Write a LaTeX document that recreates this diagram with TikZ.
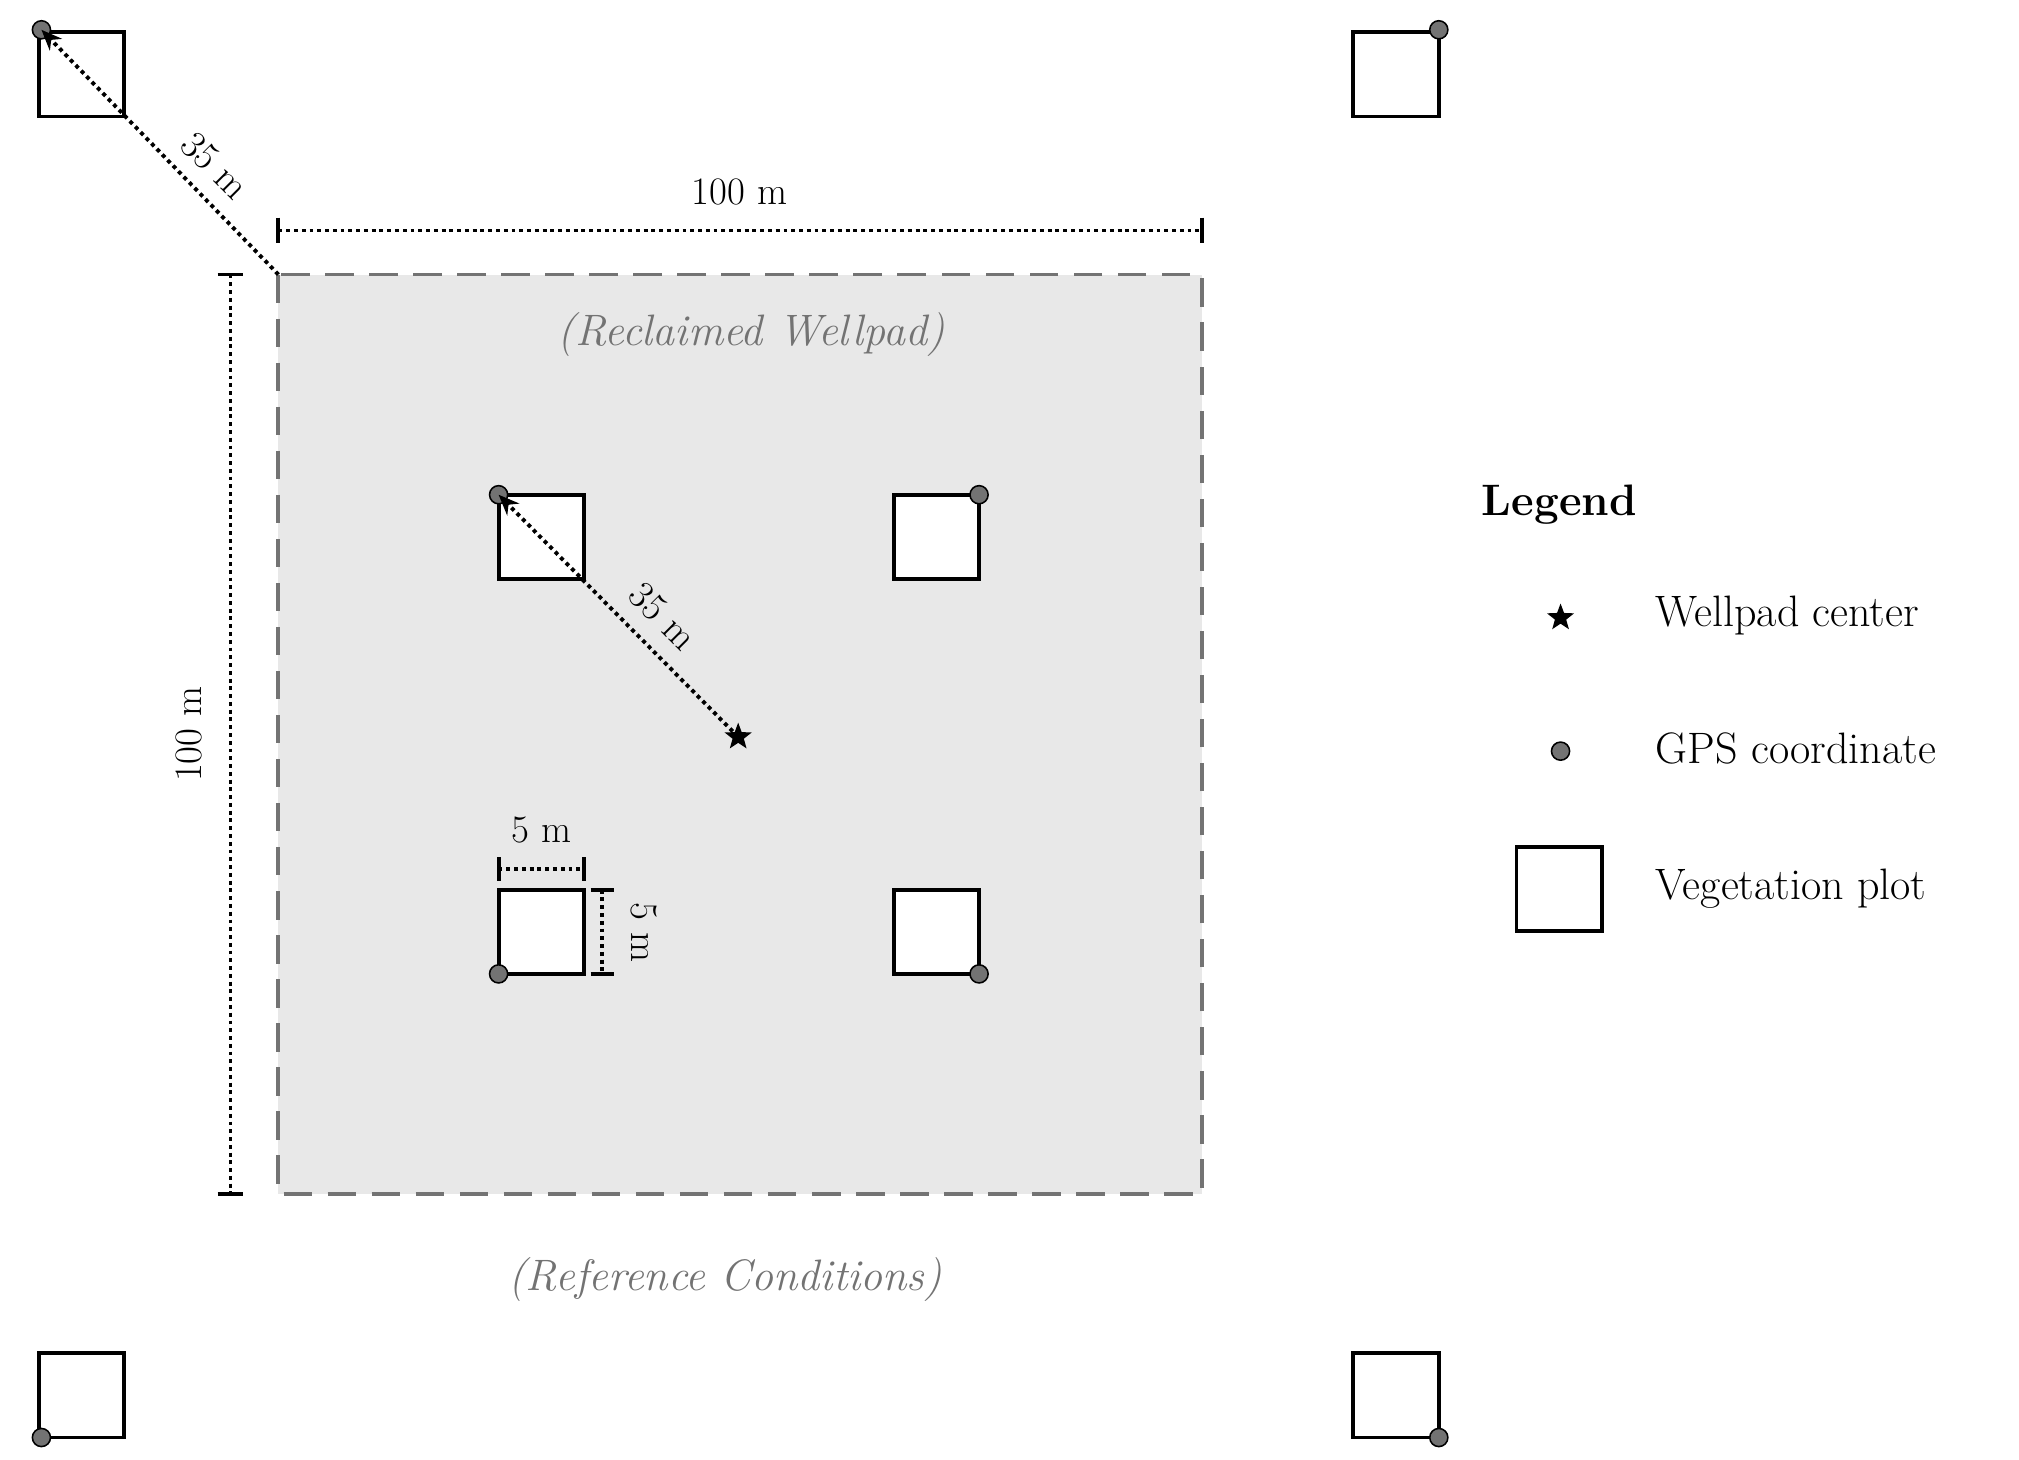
\documentclass[tikz,border=0pt]{standalone}
\usetikzlibrary{arrows.meta,shapes.geometric}
\begin{document}
\begin{tikzpicture}[x=1pt,y=-1pt,
  plot/.style={draw=black,line width=3pt,fill=white},
  gps/.style={circle,draw=black,line width=1.2pt,fill=black!55,minimum size=14pt,inner sep=0pt},
  strn/.style={star,star points=5,star point ratio=2.4,fill=black,inner sep=0pt,minimum size=22pt},
  dim/.style={line width=3pt,dash pattern=on 3pt off 3pt},
  bar/.style={line width=3pt},
  lab/.style={font=\fontsize{30}{30}\selectfont},
  leg/.style={font=\fontsize{34}{34}\selectfont,anchor=west},
  note/.style={font=\fontsize{34}{34}\selectfont\itshape,text=black!55}]
\useasboundingbox (0,0) rectangle (1559,1127);
% wellpad
\draw[fill=black!9,draw=black!55,line width=3pt,dash pattern=on 22pt off 12pt] (215,212) rectangle (928,922);
\node[note] (rw) at (580,258) {(Reclaimed Wellpad)};
\node[note] (rc) at (560,988) {(Reference Conditions)};
% plots
\foreach \n/\x/\y in {otl/30/25,otr/1045/25,obl/30/1045,obr/1045/1045,itl/385/382,itr/690/382,ibl/385/687,ibr/690/687}
  \draw[plot] (\x,\y) rectangle ++(66,65) coordinate (\n);
\node[gps] (g1) at (32,23) {};
\node[gps] (g2) at (1111,23) {};
\node[gps] (g3) at (32,1110) {};
\node[gps] (g4) at (1111,1110) {};
\node[gps] (g5) at (385,382) {};
\node[gps] (g6) at (756,382) {};
\node[gps] (g7) at (385,752) {};
\node[gps] (g8) at (756,752) {};
\node[strn] (star) at (570,569) {};
% arrows
\coordinate (corner) at (215,212);
\draw[dim,-{Stealth[length=16pt,width=13pt]}] (star.center) -- (g5.center);
\node[lab,rotate=-45] at (512,476) {35 m};
\draw[dim,-{Stealth[length=16pt,width=13pt]}] (corner) -- (g1.center);
\node[lab,rotate=-45] at (166,128) {35 m};
% dimensions
\coordinate (t1) at (215,178); \coordinate (t2) at (928,178);
\draw[dim] (t1) -- (t2);
\draw[bar] (215,168) -- (215,188) (928,168) -- (928,188);
\node[lab] at (571,148) {100 m};
\coordinate (l1) at (178,212); \coordinate (l2) at (178,922);
\draw[dim] (l1) -- (l2);
\draw[bar] (168,212) -- (188,212) (168,922) -- (188,922);
\node[lab,rotate=90] at (146,567) {100 m};
\draw[dim] (385,671) -- (451,671);
\draw[bar] (385,662) -- (385,680) (451,662) -- (451,680);
\node[lab] at (418,641) {5 m};
\draw[dim] (465,687) -- (465,752);
\draw[bar] (456,687) -- (474,687) (456,752) -- (474,752);
\node[lab,rotate=-90] at (497,720) {5 m};
% legend
\node[font=\fontsize{34}{34}\selectfont\bfseries] (lg) at (1204,390) {Legend};
\node[strn] (ls) at (1205,477) {};
\node[leg] at (1275,475) {Wellpad center};
\node[gps] (lgps) at (1205,580) {};
\node[leg] at (1275,578) {GPS coordinate};
\draw[plot] (1171,654) rectangle (1237,719);
\node[leg] at (1275,686) {Vegetation plot};
\end{tikzpicture}
\end{document}
